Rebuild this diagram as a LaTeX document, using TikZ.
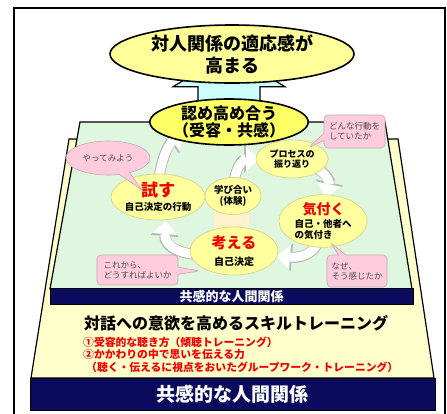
\documentclass[tikz,border=0pt]{standalone}
\usepackage{fontspec}
\setmainfont{Noto Sans CJK JP}
\usetikzlibrary{shapes.geometric,shapes.callouts,arrows.meta,calc}
\definecolor{navy}{HTML}{0B0B5E}
\definecolor{cream}{HTML}{FFFFCC}
\definecolor{mint}{HTML}{DFF6DF}
\definecolor{yelA}{HTML}{FFFF99}
\definecolor{yelB}{HTML}{FFFF66}
\definecolor{yelS}{HTML}{FFFF9E}
\definecolor{yelL}{HTML}{D8D890}
\definecolor{pinkF}{HTML}{FFCCDD}
\definecolor{pinkL}{HTML}{C8A8B0}
\definecolor{pillarc}{HTML}{FFF2CC}
\definecolor{skyF}{HTML}{CCFFFF}
\definecolor{redT}{HTML}{F00000}
\pgfdeclarelayer{back}
\pgfdeclarelayer{arr}
\pgfsetlayers{back,arr,main}
\begin{document}
\begin{tikzpicture}[x=1pt,y=-1pt,
  bigell/.style={ellipse,draw=black,line width=1.6pt,inner sep=0pt,align=center},
  smell/.style={ellipse,fill=yelS,draw=yelL,line width=0.8pt,inner sep=0pt,align=center,
    font=\bfseries\fontsize{9.5}{11}\selectfont},
  bub/.style={rectangle callout,rounded corners=4pt,fill=pinkF,draw=pinkL,line width=0.6pt,
    inner sep=0pt,align=left,text=black!70,font=\fontsize{8.5}{10}\selectfont},
  ebub/.style={ellipse callout,fill=pinkF,draw=pinkL,line width=0.6pt,
    inner sep=0pt,align=center,text=black!70,font=\fontsize{8.5}{10}\selectfont},
  navybar/.style={rectangle,fill=navy,draw=black,line width=0.8pt,inner sep=0pt,text=white},
  arrout/.style={draw=black!28,line width=11pt,-{Triangle[width=28pt,length=16pt,line width=0pt]}},
  arrin/.style={draw=white,line width=9pt,-{Triangle[width=25pt,length=14pt,line width=0pt]}},
  skyarrow/.style={fill=skyF,draw=black,line width=1.2pt,line join=miter}
]
\useasboundingbox (0,0) rectangle (447,413);
\begin{pgfonlayer}{back}
  \fill[white] (0,0) rectangle (447,413);
  \draw[line width=2pt] (14,8) rectangle (445,430);
  \draw[fill=cream,line width=1.2pt] (69,139) -- (398,139) -- (434,378) -- (31,378) -- cycle;
  \draw[fill=mint,line width=1.2pt] (80,122) -- (385,122) -- (412,289) -- (50,289) -- cycle;
  \fill[pillarc] (214,205) rectangle (249,236);
\end{pgfonlayer}

% bars and texts
\node[navybar,minimum width=363pt,minimum height=16pt,font=\bfseries\fontsize{13}{15}\selectfont] (bar1) at (231.5,296) {共感的な人間関係};
\node[navybar,minimum width=405pt,minimum height=32pt,font=\bfseries\fontsize{19}{21}\selectfont] (bar2) at (232.5,394) {共感的な人間関係};
\node[inner sep=0pt,font=\bfseries\fontsize{16}{18}\selectfont] (taiwa) at (236,323) {対話への意欲を高めるスキルトレーニング};
\node[anchor=west,align=left,inner sep=0pt,text=redT,font=\bfseries\fontsize{10.8}{12.5}\selectfont] (skills) at (83,354.5)
  {①受容的な聴き方（傾聴トレーニング）\\②かかわりの中で思いを伝える力\\\hspace*{3pt}（聴く・伝えるに視点をおいたグループワーク・トレーニング）};

% cycle ellipses
\node[smell,minimum width=94pt,minimum height=46pt] (tamesu) at (158,197)
  {{\fontsize{17}{19}\selectfont\color{redT}試す}\\[3pt]自己決定の行動};
\node[smell,minimum width=56pt,minimum height=37pt] (manabi) at (233,196)
  {学び合い\\(体験)};
\node[smell,minimum width=72pt,minimum height=38pt,font=\bfseries\fontsize{9}{10.5}\selectfont] (process) at (292,159)
  {プロセスの\\振り返り};
\node[smell,minimum width=88pt,minimum height=52pt,align=left,font=\bfseries\fontsize{9.5}{10.5}\selectfont] (kizuku) at (323,221)
  {\hspace*{8pt}{\fontsize{14}{16}\selectfont\color{redT}気付く}\\[3pt]自己・他者へ\\の気付き};
\node[smell,minimum width=88pt,minimum height=48pt,font=\bfseries\fontsize{10}{11}\selectfont] (kangaeru) at (234,251)
  {{\fontsize{15}{17}\selectfont\color{redT}考える}\\[6pt]自己決定};

% big ellipses
\node[bigell,fill=yelA,minimum width=244pt,minimum height=58pt,font=\bfseries\fontsize{18}{22}\selectfont] (takamaru) at (232,54)
  {対人関係の適応感が\\高まる};
\node[bigell,fill=yelB,minimum width=158pt,minimum height=46pt,font=\bfseries\fontsize{16}{17}\selectfont] (mitome) at (229,122)
  {認め高め合う\\（受容・共感）};

% speech bubbles
\node[ebub,minimum width=84pt,minimum height=34pt,callout absolute pointer={(142,190)}] (yatte) at (108,158) {やってみよう};
\node[bub,minimum width=61pt,minimum height=33pt,callout absolute pointer={(308,148)}] (donna) at (354.5,131.5) {どんな行動を\\していたか};
\node[bub,minimum width=81pt,minimum height=30pt,callout absolute pointer={(200,271)}] (korekara) at (137.5,270) {これから、\\どうすればよいか};
\node[bub,minimum width=60pt,minimum height=32pt,callout absolute pointer={(330,242)}] (naze) at (357,271) {なぜ、\\そう感じたか};

% arrows (behind the ellipses)
\begin{pgfonlayer}{arr}
  \begin{scope}[shift={(mitome.north)}]
    \draw[skyarrow] (-31,8) -- (-31,-11.5) -- (-56,-11.5) -- (0,-45) -- (56,-11.5) -- (31,-11.5) -- (31,8) -- cycle;
  \end{scope}
  \draw[arrout] (tamesu.center) .. controls (158,160) and (170,143) .. ($(mitome.center)+(-45,11)$);
  \draw[arrin]  (tamesu.center) .. controls (158,160) and (170,143) .. ($(mitome.center)+(-45,11)$);
  \draw[arrout] (manabi.center) .. controls (233,165) and (245,159) .. ($(process.center)+(-32,0)$);
  \draw[arrin]  (manabi.center) .. controls (233,165) and (245,159) .. ($(process.center)+(-32,0)$);
  \draw[arrout] (process.center) .. controls (322,165) and (330,180) .. ($(kizuku.center)+(3,-23)$);
  \draw[arrin]  (process.center) .. controls (322,165) and (330,180) .. ($(kizuku.center)+(3,-23)$);
  \draw[arrout] (kizuku.center) .. controls (322,255) and (300,258) .. ($(kangaeru.center)+(42,5)$);
  \draw[arrin]  (kizuku.center) .. controls (322,255) and (300,258) .. ($(kangaeru.center)+(42,5)$);
  \draw[arrout] (kangaeru.center) .. controls (180,262) and (164,245) .. ($(tamesu.center)+(8,23)$);
  \draw[arrin]  (kangaeru.center) .. controls (180,262) and (164,245) .. ($(tamesu.center)+(8,23)$);
\end{pgfonlayer}
\end{tikzpicture}
\end{document}
